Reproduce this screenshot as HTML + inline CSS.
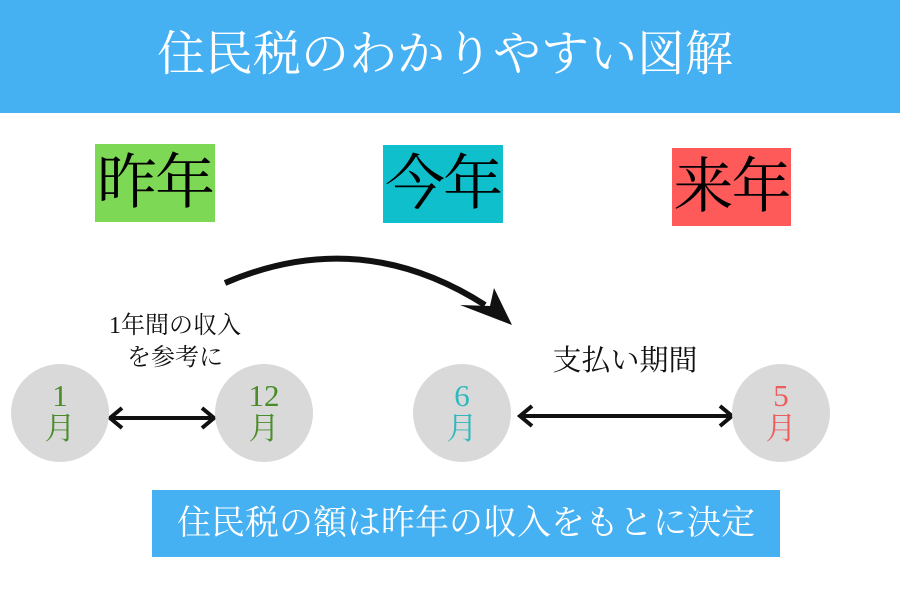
<!DOCTYPE html>
<html><head><meta charset="utf-8"><style>
body{margin:0;width:900px;height:600px;background:#fff;position:relative;overflow:hidden;font-family:"Liberation Serif","Noto Serif CJK SC",serif;}
.hdr{position:absolute;left:0;top:0;width:890px;height:113px;padding-right:10px;background:#45b0f2;color:#fff;font-size:48px;text-align:center;line-height:110px;}
.yr{position:absolute;font-size:60px;text-align:center;color:#000;line-height:78px;letter-spacing:-2px;}
.c{position:absolute;width:98px;height:98px;border-radius:50%;background:#d9d9d9;text-align:center;font-size:31px;line-height:33px;box-sizing:border-box;padding-top:15px;}
.t{position:absolute;font-size:24px;color:#111;text-align:center;}
.bot{position:absolute;left:152px;top:490px;width:628px;height:67px;background:#45b0f2;color:#fff;font-size:34px;text-align:center;line-height:67px;}
</style></head><body>
<div class="hdr">住民税のわかりやすい図解</div>
<div class="yr" style="left:95px;top:144px;width:120px;height:78px;background:#7dd855;">昨年</div>
<div class="yr" style="left:383px;top:145px;width:120px;height:78px;background:#0fc0cc;">今年</div>
<div class="yr" style="left:672px;top:148px;width:119px;height:78px;background:#ff5a5a;">来年</div>
<svg style="position:absolute;left:0;top:0" width="900" height="600">
<path d="M225 283 Q360 225 485 305" stroke="#111" stroke-width="6" fill="none"/>
<path d="M460 305 L512 325 L494 288 L490 306 Z" fill="#111"/>
<line x1="112" y1="418" x2="212" y2="418" stroke="#111" stroke-width="4"/>
<path d="M122 408 L110 418 L122 428 M202 408 L214 418 L202 428" stroke="#111" stroke-width="4" fill="none"/>
<line x1="522" y1="416" x2="730" y2="416" stroke="#111" stroke-width="4"/>
<path d="M532 406 L520 416 L532 426 M720 406 L732 416 L720 426" stroke="#111" stroke-width="4" fill="none"/>
</svg>
<div class="t" style="left:85px;top:310px;width:180px;line-height:32px;">1年間の収入<br>を参考に</div>
<div class="t" style="left:520px;top:338px;width:210px;font-size:29px;">支払い期間</div>
<div class="c" style="left:11px;top:364px;color:#4a8c2a;">1<br>月</div>
<div class="c" style="left:215px;top:364px;color:#4a8c2a;">12<br>月</div>
<div class="c" style="left:413px;top:364px;color:#30b8bd;">6<br>月</div>
<div class="c" style="left:732px;top:364px;color:#ee5d5d;">5<br>月</div>
<div class="bot">住民税の額は昨年の収入をもとに決定</div>
</body></html>
